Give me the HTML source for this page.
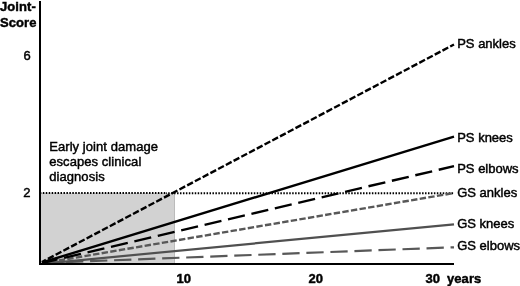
<!DOCTYPE html>
<html><head><meta charset="utf-8">
<style>
html,body{margin:0;padding:0;background:#fff;width:520px;height:286px;overflow:hidden}
svg{display:block;will-change:transform}
text{font-family:"Liberation Sans",sans-serif;font-size:13px;fill:#000;stroke:#000;stroke-width:0.45px;letter-spacing:0.07px}
.b{font-weight:bold}
.r{letter-spacing:0}
</style></head><body>
<svg width="520" height="286" viewBox="0 0 520 286">
<!-- shaded region -->
<rect x="41" y="193" width="133.5" height="70" fill="#d2d2d2"/>
<line x1="174.5" y1="193" x2="174.5" y2="263" stroke="#bbb" stroke-width="1"/>
<!-- dotted line at 2 -->
<line x1="41" y1="193" x2="166" y2="193" stroke="#000" stroke-width="1.9" stroke-dasharray="1.5 1.45" stroke-dashoffset="1.13"/>
<line x1="166" y1="193.2" x2="454" y2="193.2" stroke="#000" stroke-width="1.9" stroke-dasharray="1.5 1.4523" stroke-dashoffset="0.777"/>
<!-- lines -->
<g fill="none" stroke-linecap="butt">
<line x1="42" y1="263" x2="454" y2="247.3" stroke="#585858" stroke-width="2.2" stroke-dasharray="17.3 6.75" stroke-dashoffset="0"/>
<line x1="42" y1="263.8" x2="454" y2="224.3" stroke="#505050" stroke-width="2.2"/>
<line x1="42" y1="263.4" x2="454" y2="193" stroke="#585858" stroke-width="2.4" stroke-dasharray="6.4 2.32" stroke-dashoffset="0.52"/>
<line x1="42" y1="263" x2="454" y2="166.2" stroke="#000" stroke-width="2.4" stroke-dasharray="17.3 6.75" stroke-dashoffset="1.33"/>
<line x1="42" y1="262.5" x2="454" y2="136.6" stroke="#000" stroke-width="2.4"/>
<line x1="42" y1="262" x2="454" y2="44.5" stroke="#000" stroke-width="2.4" stroke-dasharray="6.5 2.248" stroke-dashoffset="2.05"/>
</g>
<!-- axes -->
<rect x="39" y="1" width="2" height="264" fill="#000"/>
<rect x="39" y="263" width="415" height="2" fill="#000"/>
<!-- labels -->
<text class="b" x="0" y="10.5">Joint-</text>
<text class="b" x="0" y="26.9">Score</text>
<text x="23.5" y="59.6">6</text>
<text x="23.2" y="197">2</text>
<text class="b" x="176.5" y="282.5">10</text>
<text class="b" x="308.5" y="282.5">20</text>
<text class="b" x="425.5" y="282.5">30</text>
<text class="b" x="447" y="282.5">years</text>
<text x="49.2" y="150.9">Early joint damage</text>
<text x="49.2" y="165.9">escapes clinical</text>
<text x="49.2" y="180.9">diagnosis</text>
<text class="r" x="457.2" y="47.6">PS ankles</text>
<text class="r" x="457.2" y="141.7">PS knees</text>
<text class="r" x="457.2" y="172.9">PS elbows</text>
<text class="r" x="457.2" y="196.9">GS ankles</text>
<text class="r" x="457.2" y="228.4">GS knees</text>
<text class="r" x="457.2" y="250.1">GS elbows</text>
</svg>
</body></html>
